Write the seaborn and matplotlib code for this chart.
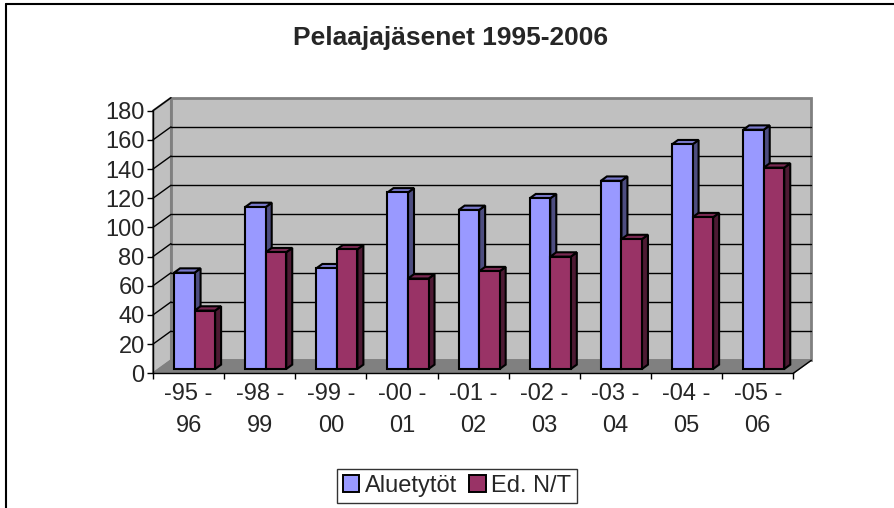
import numpy as np
import pandas as pd
import matplotlib
matplotlib.use("Agg")
import matplotlib.pyplot as plt
import seaborn as sns
from matplotlib.patches import Polygon, Rectangle
from matplotlib.lines import Line2D

# --- DATA ---
seasons = ["-95 -\n96", "-98 -\n99", "-99 -\n00", "-00 -\n01", "-01 -\n02",
           "-02 -\n03", "-03 -\n04", "-04 -\n05", "-05 -\n06"]
aluetytot = [66, 111, 69, 121, 109, 117, 129, 154, 164]
ed_nt = [40, 80, 82, 62, 67, 77, 89, 104, 138]
series_names = ["Aluetytöt", "Ed. N/T"]
y_ticks = [0, 20, 40, 60, 80, 100, 120, 140, 160, 180]

front_colors = ["#9999FF", "#993366"]
side_colors = ["#4D4D80", "#4D1A33"]
top_colors = ["#7A7ACC", "#7A2952"]

df = pd.DataFrame({
    "kausi": seasons * 2,
    "pelaajat": aluetytot + ed_nt,
    "sarja": [series_names[0]] * len(seasons) + [series_names[1]] * len(seasons),
})

sns.set_style("white")
plt.rcParams["font.family"] = ["Liberation Sans", "DejaVu Sans"]

W, H = 895, 508
fig = plt.figure(figsize=(W / 100, H / 100), dpi=100)
# front plane of the "3D" plot area, in pixels
left, right, bottom, top = 153, 793.3, 373.3, 110.7
ax = fig.add_axes([left / W, 1 - bottom / H, (right - left) / W, (bottom - top) / H])

sns.barplot(data=df, x="kausi", y="pelaajat", hue="sarja", palette=front_colors,
            width=0.577, saturation=1, edgecolor="black", linewidth=1.5,
            legend=False, ax=ax)
bars = sorted([p for p in ax.patches if p.get_height() > 0], key=lambda p: p.get_x())

n = len(seasons)
ax.set_xlim(-0.5, n - 0.5)
ax.set_ylim(0, 180)
ax.set_facecolor("none")

# pixel -> data conversion
px_x = n / (right - left)
px_y = 180 / (bottom - top)
dx, dy = 18 * px_x, 13 * px_y          # full depth of the box
bx, by = dx / 3, dy / 3                # bars start 1/3 deep, 1/3 thick

x0, x1 = -0.5, n - 0.5
wall = "#C0C0C0"
# back wall
ax.add_patch(Rectangle((x0 + dx, dy), x1 - x0, 180, fc=wall, ec="#808080", lw=2,
                       clip_on=False, zorder=0.1))
# left wall
ax.add_patch(Polygon([(x0, 0), (x0 + dx, dy), (x0 + dx, 180 + dy), (x0, 180)],
                     closed=True, fc=wall, ec="#808080", lw=1.5, clip_on=False, zorder=0.1))
# gridlines on back and side walls
for v in y_ticks[1:-1]:
    ax.plot([x0 + dx, x1 + dx], [v + dy, v + dy], color="black", lw=1, clip_on=False, zorder=0.2)
for v in y_ticks[1:]:
    ax.plot([x0, x0 + dx], [v, v + dy], color="black", lw=1, clip_on=False, zorder=0.2)
# floor
ax.add_patch(Polygon([(x0, 0), (x1, 0), (x1 + dx, dy), (x0 + dx, dy)], closed=True,
                     fc="#808080", ec="#808080", lw=1, clip_on=False, zorder=0.3))
ax.plot([x1, x1 + dx], [0, dy], color="black", lw=1, clip_on=False, zorder=0.3)

# 3D bars: shift the seaborn bars back and add side and top faces
for i, p in enumerate(bars):
    k = 0 if p.get_facecolor()[2] > 0.9 else 1
    x, w, h = p.get_x() + bx, p.get_width(), p.get_height()
    p.set_x(x)
    p.set_y(by)
    p.set_zorder(2 + i * 0.01)
    p.set_clip_on(False)
    side = Polygon([(x + w, by), (x + w + bx, 2 * by), (x + w + bx, h + 2 * by), (x + w, h + by)],
                   closed=True, fc=side_colors[k], ec="black", lw=1.5, clip_on=False,
                   zorder=2 + i * 0.01 - 0.005)
    topf = Polygon([(x, h + by), (x + w, h + by), (x + w + bx, h + 2 * by), (x + bx, h + 2 * by)],
                   closed=True, fc=top_colors[k], ec="black", lw=1.5, clip_on=False,
                   zorder=2 + i * 0.01 - 0.005)
    ax.add_patch(side)
    ax.add_patch(topf)

# axes, ticks
for s in ["top", "right"]:
    ax.spines[s].set_visible(False)
for s in ["left", "bottom"]:
    ax.spines[s].set_color("black")
    ax.spines[s].set_linewidth(1)
    ax.spines[s].set_zorder(5)
ax.set_yticks(y_ticks)
ax.set_yticklabels([str(v) for v in y_ticks])
ax.set_xticks(range(n))
ax.set_xticklabels(seasons, linespacing=1.6)
ax.set_xticks(np.arange(-0.5, n), minor=True)
ax.tick_params(axis="y", direction="out", length=4, width=1, color="black",
               labelsize=17, pad=2, left=True)
ax.tick_params(axis="x", which="major", length=0, labelsize=17, pad=7)
ax.tick_params(axis="x", which="minor", direction="out", length=4, width=1,
               color="black", bottom=True)
ax.set_xlabel("")
ax.set_ylabel("")

fig.text(451 / W, 1 - 38 / H, "Pelaajajäsenet 1995-2006", ha="center", va="center",
         fontsize=19, fontweight="bold")

handles = [Rectangle((0, 0), 1, 1, fc=c, ec="black", lw=1.4) for c in front_colors]
leg = fig.legend(handles, series_names, loc="center", bbox_to_anchor=(457 / W, 1 - 486 / H),
                 ncol=2, frameon=True, fancybox=False, fontsize=17, handlelength=0.7,
                 handleheight=0.7, handletextpad=0.25, columnspacing=0.5, borderpad=0.25)
leg.get_frame().set_edgecolor("black")
leg.get_frame().set_linewidth(1)

# chart border (left and top, bottom and right are cut off)
fig.add_artist(Line2D([6.5 / W, 6.5 / W], [0, 1 - 4 / H], color="black", lw=1.5))
fig.add_artist(Line2D([6.5 / W, 1], [1 - 4 / H, 1 - 4 / H], color="black", lw=1.5))

fig.savefig("out.png", dpi=100)
